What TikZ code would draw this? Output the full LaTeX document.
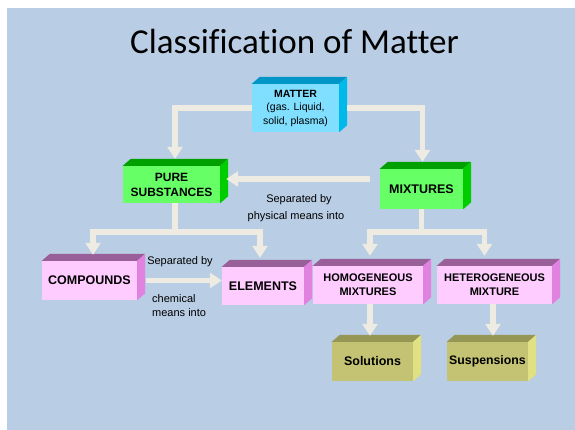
\documentclass[tikz,border=0pt]{standalone}
\usepackage{fontspec}
\setmainfont{Liberation Sans}
\newfontfamily\titlefont[Ligatures={NoCommon,NoContextual}]{Carlito}
\usetikzlibrary{arrows.meta}
\definecolor{bg}{RGB}{185,205,228}
\definecolor{conncol}{RGB}{238,236,226}
\definecolor{cyanfront}{RGB}{128,222,255}
\definecolor{cyantop}{RGB}{0,150,200}
\definecolor{cyanside}{RGB}{0,185,235}
\definecolor{greenfront}{RGB}{102,255,102}
\definecolor{greentop}{RGB}{0,160,0}
\definecolor{greenside}{RGB}{0,205,0}
\definecolor{pinkfront}{RGB}{255,204,255}
\definecolor{pinktop}{RGB}{153,95,153}
\definecolor{pinkside}{RGB}{225,130,225}
\definecolor{olivefront}{RGB}{195,195,115}
\definecolor{olivetop}{RGB}{150,150,85}
\definecolor{oliveside}{RGB}{225,225,130}
\newcommand\solidbox[8]{%
  \node[boxface, fill=#6front, minimum width=#4pt, minimum height=#5pt, font=#7] (#1) at (#2,#3) {#8};
  \fill[#6top] (#1.north west) -- ++(8,-7) -- ([shift={(8,-7)}]#1.north east) -- (#1.north east) -- cycle;
  \fill[#6side] (#1.north east) -- ++(8,-7) -- ([shift={(8,-7)}]#1.south east) -- (#1.south east) -- cycle;
}
\begin{document}
\begin{tikzpicture}[x=1pt, y=-1pt,
  boxface/.style={inner sep=0pt, align=center},
  conn/.style={draw=conncol, line width=5.5pt, -{Triangle[width=15pt,length=12pt]}},
  connline/.style={draw=conncol, line width=5.5pt},
  lbl/.style={inner sep=0pt, font=\fontsize{11}{13}\selectfont}]
\useasboundingbox (0,0) rectangle (575,430);
\fill[bg] (7,8) rectangle (575,430);
\node[font=\titlefont\fontsize{35}{41}\selectfont, anchor=base] (title) at (294.5,54) {Classification of Matter};
\solidbox{matter}{295.5}{108}{87}{48}{cyan}{\fontsize{10.5}{13.5}\selectfont}{\textbf{MATTER}\\(gas. Liquid,\\solid, plasma)}
\solidbox{pure}{171.5}{184.5}{97}{37}{green}{\bfseries\fontsize{12}{15}\selectfont}{PURE\\SUBSTANCES}
\solidbox{mixtures}{421.5}{189}{83}{40}{green}{\bfseries\fontsize{12.5}{15}\selectfont}{MIXTURES}
\solidbox{compounds}{89.5}{280.5}{95}{39}{pink}{\bfseries\fontsize{12.5}{15}\selectfont}{COMPOUNDS}
\solidbox{elements}{263}{286}{82}{38}{pink}{\bfseries\fontsize{12.5}{15}\selectfont}{ELEMENTS}
\solidbox{homog}{368}{285}{110}{38}{pink}{\bfseries\fontsize{11}{14}\selectfont}{HOMOGENEOUS\\MIXTURES}
\solidbox{hetero}{494.5}{285}{115}{38}{pink}{\bfseries\fontsize{11}{14}\selectfont}{HETEROGENEOUS\\MIXTURE}
\solidbox{solutions}{372.5}{361.5}{81}{39}{olive}{\bfseries\fontsize{12.5}{15}\selectfont}{Solutions}
\solidbox{suspensions}{487.5}{361.5}{81}{39}{olive}{\bfseries\fontsize{12.3}{15}\selectfont}{Suspensions}
\coordinate (pj) at (175,232);
\coordinate (mj) at (421.5,232);
\draw[conn, shorten >=7pt] (matter.west) -| ([xshift=3.5pt]pure.north);
\draw[conn, shorten >=7pt] ([xshift=8pt]matter.east) -| ([xshift=1pt]mixtures.north);
\draw[conn] ([shift={(-10,-10)}]mixtures.west) -- ([shift={(6,-5.5)}]pure.east);
\draw[connline] ([xshift=3.5pt]pure.south) -- (pj);
\draw[conn, shorten >=6pt] (pj) -| ([xshift=3.5pt]compounds.north);
\draw[conn, shorten >=9pt] (pj) -| ([xshift=-3pt]elements.north);
\draw[conn] ([xshift=9pt]compounds.east) -- (elements.west |- compounds.east);
\draw[connline] (mixtures.south) -- (mj);
\draw[conn, shorten >=10pt] (mj) -| ([xshift=2pt]homog.north);
\draw[conn, shorten >=10pt] (mj) -| ([xshift=-10pt]hetero.north);
\draw[conn, shorten >=6pt] ([xshift=2pt]homog.south) -- ([xshift=2pt]homog.south |- solutions.north);
\draw[conn, shorten >=6pt] ([xshift=-1.5pt]hetero.south) -- ([xshift=-1.5pt]hetero.south |- suspensions.north);
\node[lbl] (physA) at (299,200) {Separated by};
\node[lbl] (physB) at (296,217) {physical means into};
\node[lbl] (chemA) at (180,262) {Separated by};
\node[lbl, anchor=west] (chemB) at (152,299) {chemical};
\node[lbl, anchor=west] (chemC) at (152,313) {means into};
\end{tikzpicture}
\end{document}
